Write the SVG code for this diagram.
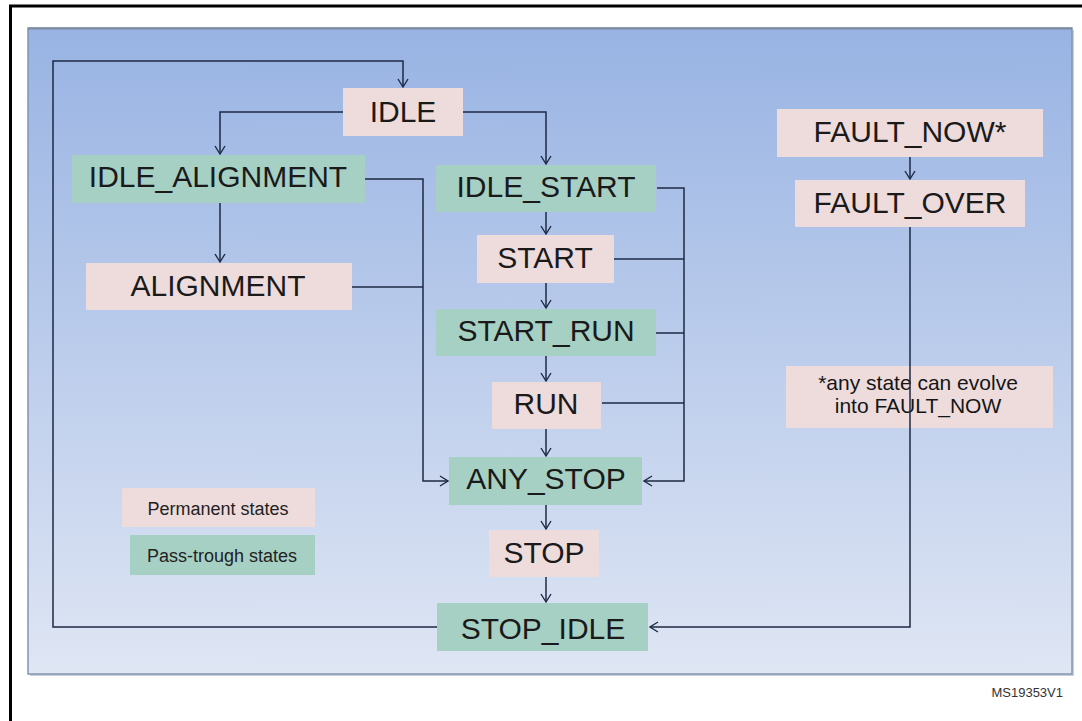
<svg xmlns="http://www.w3.org/2000/svg" width="1082" height="721" viewBox="0 0 1082 721">
<defs>
<linearGradient id="bg" x1="0" y1="0" x2="0" y2="1">
<stop offset="0" stop-color="#98b3e3"/>
<stop offset="1" stop-color="#dfe6f4"/>
</linearGradient>
<marker id="arr" markerUnits="userSpaceOnUse" markerWidth="16" markerHeight="16" refX="0" refY="0" viewBox="-10 -8 12 16" orient="auto">
<path d="M-8,-5 L0,0 L-8,5" fill="none" stroke="#1e2a44" stroke-width="1.4"/>
</marker>
<style>
.perm{fill:#eedcdc;}
.pass{fill:#a6d0c4;}
.lbl{font-family:"Liberation Sans",Arial,sans-serif;font-size:30px;fill:#1a1a1a;text-anchor:middle;}
.small{font-family:"Liberation Sans",Arial,sans-serif;font-size:18px;fill:#222;text-anchor:middle;}
.note{font-family:"Liberation Sans",Arial,sans-serif;font-size:21px;fill:#151515;text-anchor:middle;}
.con{fill:none;stroke:#1e2a44;stroke-width:1.5;}
</style>
</defs>
<rect x="0" y="0" width="1082" height="721" fill="#ffffff"/>
<path d="M10.5,721 L10.5,6 L1082,6" fill="none" stroke="#000" stroke-width="3"/>
<rect x="30" y="30" width="1044" height="646" fill="#c9d0dc"/>
<rect x="28" y="28" width="1044" height="646" fill="url(#bg)" stroke="#8494b0" stroke-width="1.5"/>
<line x1="28" y1="28.5" x2="1072" y2="28.5" stroke="#7d8aa2" stroke-width="2"/>

<g id="node-idle"><rect class="perm" x="343" y="88" width="120" height="48"/><text class="lbl" x="403" y="122">IDLE</text></g>
<g id="node-idle-alignment"><rect class="pass" x="72" y="155" width="293" height="48"/><text class="lbl" x="218" y="187">IDLE_ALIGNMENT</text></g>
<g id="node-alignment"><rect class="perm" x="86" y="263" width="266" height="47"/><text class="lbl" x="218" y="296">ALIGNMENT</text></g>
<g id="node-idle-start"><rect class="pass" x="436" y="165" width="220" height="47"/><text class="lbl" x="546" y="197">IDLE_START</text></g>
<g id="node-start"><rect class="perm" x="477" y="235" width="137" height="48"/><text class="lbl" x="545" y="268">START</text></g>
<g id="node-start-run"><rect class="pass" x="436" y="309" width="220" height="47"/><text class="lbl" x="546" y="341">START_RUN</text></g>
<g id="node-run"><rect class="perm" x="492" y="382" width="109" height="47"/><text class="lbl" x="546" y="414">RUN</text></g>
<g id="node-any-stop"><rect class="pass" x="449" y="457" width="193" height="48"/><text class="lbl" x="546" y="489">ANY_STOP</text></g>
<g id="node-stop"><rect class="perm" x="489" y="530" width="110" height="47"/><text class="lbl" x="544" y="563">STOP</text></g>
<g id="node-stop-idle"><rect class="pass" x="437" y="603" width="211" height="48"/><text class="lbl" x="543" y="639">STOP_IDLE</text></g>
<g id="node-fault-now"><rect class="perm" x="777" y="109" width="266" height="48"/><text class="lbl" x="910" y="142">FAULT_NOW*</text></g>
<g id="node-fault-over"><rect class="perm" x="795" y="180" width="230" height="47"/><text class="lbl" x="910" y="213">FAULT_OVER</text></g>
<g id="note"><rect class="perm" x="786" y="366" width="267" height="62"/><text class="note" x="918" y="390">*any state can evolve</text><text class="note" x="918" y="413">into FAULT_NOW</text></g>
<g id="legend-permanent"><rect class="perm" x="122" y="488" width="193" height="39"/><text class="small" x="218" y="515">Permanent states</text></g>
<g id="legend-pass"><rect class="pass" x="130" y="535" width="185" height="40"/><text class="small" x="222" y="562">Pass-trough states</text></g>

<g id="connectors">
<path class="con" d="M437,627 L53,627 L53,61 L403,61 L403,87" marker-end="url(#arr)"/>
<path class="con" d="M343,112 L220,112 L220,154" marker-end="url(#arr)"/>
<path class="con" d="M220,203 L220,262" marker-end="url(#arr)"/>
<path class="con" d="M463,112 L546,112 L546,164" marker-end="url(#arr)"/>
<path class="con" d="M546,212 L546,234" marker-end="url(#arr)"/>
<path class="con" d="M546,283 L546,308" marker-end="url(#arr)"/>
<path class="con" d="M546,356 L546,381" marker-end="url(#arr)"/>
<path class="con" d="M546,429 L546,456" marker-end="url(#arr)"/>
<path class="con" d="M546,505 L546,529" marker-end="url(#arr)"/>
<path class="con" d="M546,577 L546,602" marker-end="url(#arr)"/>
<path class="con" d="M365,179 L423,179 L423,481 L448,481" marker-end="url(#arr)"/>
<path class="con" d="M352,287 L423,287"/>
<path class="con" d="M657,188 L684,188 L684,481 L644,481" marker-end="url(#arr)"/>
<path class="con" d="M614,259 L684,259"/>
<path class="con" d="M656,333 L684,333"/>
<path class="con" d="M602,403 L684,403"/>
<path class="con" d="M910,157 L910,179" marker-end="url(#arr)"/>
<path class="con" d="M910,227 L910,627 L650,627" marker-end="url(#arr)"/>
</g>
<text x="1063" y="697" font-family="Liberation Sans,Arial,sans-serif" font-size="13" fill="#333" text-anchor="end">MS19353V1</text>
</svg>
